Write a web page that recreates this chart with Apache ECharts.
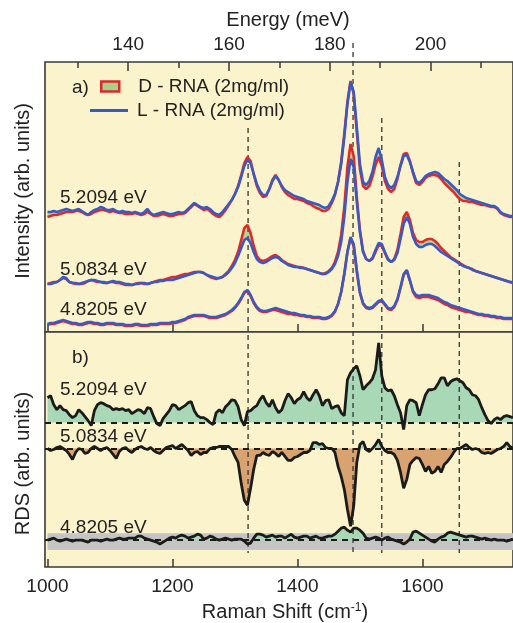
<!DOCTYPE html>
<html><head><meta charset="utf-8">
<script src="https://cdn.jsdelivr.net/npm/echarts@6/dist/echarts.min.js"></script>
<style>html,body{margin:0;padding:0;background:#fff}#c{width:513px;height:623px}</style>
</head><body><div id="c"></div>
<script>
// Raman shift grid (cm^-1)
const ramanShift = [
1000,1005,1010,1015,1020,1025,1030,1035,1040,1045,
1050,1055,1060,1065,1070,1075,1080,1085,1090,1095,
1100,1105,1110,1115,1120,1125,1130,1135,1140,1145,
1150,1155,1160,1165,1170,1175,1180,1185,1190,1195,
1200,1205,1210,1215,1220,1225,1230,1235,1240,1245,
1250,1255,1260,1265,1270,1275,1280,1285,1290,1295,
1300,1305,1310,1315,1320,1325,1330,1335,1340,1345,
1350,1355,1360,1365,1370,1375,1380,1385,1390,1395,
1400,1405,1410,1415,1420,1425,1430,1435,1440,1445,
1450,1455,1460,1465,1470,1475,1480,1485,1490,1495,
1500,1505,1510,1515,1520,1525,1530,1535,1540,1545,
1550,1555,1560,1565,1570,1575,1580,1585,1590,1595,
1600,1605,1610,1615,1620,1625,1630,1635,1640,1645,
1650,1655,1660,1665,1670,1675,1680,1685,1690,1695,
1700,1705,1710,1715,1720,1725,1730,1735,1740,1745];

// panel a) spectra (offset intensities, arb. units)
const L_52094 = [
120,120,121,120,121,122,123,122,121,122,
123,121,119,117,120,122,123,125,124,122,
122,123,121,120,121,120,120,119,120,119,
118,120,123,119,117,118,119,120,119,118,
118,119,120,119,120,123,126,129,127,125,
124,125,123,120,118,117,120,124,128,132,
138,145,155,166,172,169,158,148,141,137,
137,143,151,156,152,146,142,140,138,136,
135,134,133,131,130,129,128,127,125,124,
126,131,138,150,168,195,228,250,240,205,
168,150,147,151,160,175,184,172,155,147,
144,147,155,166,176,177,170,160,151,149,
152,156,158,159,160,159,156,153,151,148,
145,142,138,136,134,133,132,131,130,129,
128,127,126,126,124,120,118,117,116,116];
const D_52094 = [
115,116,117,117,118,119,120,120,120,121,
121,120,118,117,118,120,121,122,122,121,
120,121,120,119,119,118,118,118,119,118,
117,118,120,118,116,116,117,118,117,116,
116,117,118,118,119,122,125,128,126,124,
122,123,121,118,116,115,118,122,127,132,
138,146,157,169,175,171,158,146,139,135,
136,143,152,157,152,145,140,137,135,133,
133,132,131,129,128,126,124,123,121,121,
123,129,137,150,170,198,230,251,238,200,
163,146,143,146,155,167,175,166,151,143,
140,143,153,167,178,179,171,159,149,147,
150,154,156,157,157,156,153,149,146,143,
140,136,133,131,131,130,130,129,128,127,
127,126,125,125,123,119,117,116,115,115];
const L_50834 = [
48,48,49,50,52,55,54,50,49,49,
48,49,50,51,52,52,51,50,50,49,
50,51,50,50,49,48,48,47,48,48,
49,49,48,49,50,50,51,51,52,52,
52,53,54,55,56,57,58,59,60,60,
59,57,56,55,54,54,55,57,60,64,
69,76,84,92,94,89,80,73,70,69,
70,72,74,75,74,71,69,67,66,65,
65,64,64,63,62,61,60,59,58,58,
60,63,68,76,90,115,150,173,165,130,
100,80,73,71,74,82,89,88,80,73,
70,72,79,93,108,115,108,95,88,85,
85,87,88,88,86,83,80,78,76,74,
72,70,68,66,65,64,62,61,60,59,
58,57,56,55,54,53,52,51,50,50];
const D_50834 = [
48,49,50,50,52,54,53,50,49,48,
48,48,49,51,52,51,50,50,49,49,
50,50,49,49,48,47,47,47,48,49,
49,48,48,49,50,51,52,52,53,54,
55,55,56,57,58,58,59,60,60,60,
59,57,55,54,53,54,55,58,61,66,
72,80,92,104,107,99,86,76,72,71,
72,74,76,77,75,72,70,68,67,66,
65,65,64,63,62,61,60,59,58,59,
61,64,70,80,97,125,165,188,176,135,
102,81,73,71,73,80,87,86,79,72,
70,73,82,98,115,120,112,99,92,90,
90,92,93,93,91,88,84,81,78,75,
73,71,69,67,65,64,63,61,60,59,
58,57,56,55,54,53,52,51,50,49];
const L_48205 = [
8,9,9,10,11,12,11,10,9,9,
8,8,9,10,10,9,9,8,8,9,
9,9,8,8,8,7,7,7,8,8,
7,7,7,8,8,8,9,9,9,9,
10,10,11,12,13,15,16,17,17,17,
17,16,15,15,15,16,17,18,20,22,
25,29,34,40,42,37,30,25,22,21,
21,22,23,24,23,22,21,20,19,19,
18,17,17,16,16,15,15,15,14,14,
15,17,21,28,40,58,80,95,88,62,
40,29,25,24,25,28,31,32,28,24,
23,26,33,45,58,62,52,41,37,36,
37,37,37,36,35,34,32,30,29,27,
26,25,24,23,22,21,20,19,18,18,
17,17,16,16,15,15,14,14,14,14];
const D_48205 = [
7,8,8,9,10,11,10,9,8,8,
7,7,8,9,9,8,8,7,7,8,
8,8,7,7,7,6,6,6,7,7,
6,6,6,7,7,7,8,8,8,8,
9,9,10,11,12,14,15,16,16,16,
16,15,14,14,14,15,16,17,19,21,
24,28,33,39,41,36,29,24,21,20,
20,21,22,22,21,20,19,18,18,17,
17,16,16,15,15,14,14,14,13,13,
14,16,20,28,40,58,80,94,86,60,
39,28,24,23,24,27,30,31,27,23,
22,25,32,44,57,61,51,40,35,34,
35,35,35,34,33,32,30,28,27,25,
24,23,22,21,20,20,19,18,17,17,
16,16,15,15,14,14,13,13,13,13];

// panel b) RDS relative to each trace's zero line
const RDS_52094 = [
25,27,18,13,17,13,12,8,5,7,
13,10,6,2,-3,12,18,20,19,17,
16,13,14,13,14,12,13,9,11,13,
12,9,15,14,6,-1,-3,4,8,12,
18,17,13,15,17,20,21,12,7,5,
5,3,0,-2,10,13,10,16,19,23,
22,16,3,-3,11,12,15,17,23,27,
20,16,23,15,10,13,22,29,25,19,
23,25,31,25,22,28,33,27,17,22,
23,14,16,17,10,7,43,50,54,57,
47,33,37,40,44,53,80,47,35,32,
33,27,18,10,-7,17,23,22,20,7,
18,28,33,33,34,39,45,45,37,41,
43,44,42,40,35,33,28,27,23,15,
8,2,-1,3,5,3,6,7,6,5];
const RDS_50834 = [
0,-2,-1,1,2,0,-2,-6,-11,-4,
0,-1,-5,-4,0,2,0,-2,0,1,
-2,-6,-10,-3,0,1,-2,-4,-1,1,
2,0,-1,1,-2,-4,-5,-2,1,2,
3,0,2,4,1,-2,-7,-4,-3,-6,
-4,-4,0,1,1,2,2,2,2,-1,
-8,-14,-35,-52,-57,-40,-21,-7,-7,-4,
-6,-7,-3,-5,-8,-4,-8,-12,-12,-9,
-8,-6,-4,-4,-2,6,6,4,5,1,
0,0,-4,-18,-28,-41,-61,-78,-58,-14,
4,7,-1,-3,0,4,9,2,-2,-4,
-4,-6,-12,-24,-40,-31,-16,-12,-9,-10,
-16,-23,-18,-25,-23,-18,-24,-16,-13,-9,
-4,0,0,2,4,1,-1,0,-1,-4,
-5,-4,-5,-3,-1,0,2,6,2,0];
const RDS_48205 = [
0,1,2,0,-1,0,1,0,-1,0,
0,0,-1,-2,0,0,0,-1,0,1,
0,0,1,2,1,1,2,2,2,4,
4,2,1,0,-1,-2,-4,-2,0,2,
3,2,4,5,4,2,3,4,6,5,
1,2,4,3,1,0,1,2,1,0,
1,1,1,-1,-4,-3,2,6,6,5,
3,4,5,3,4,4,2,4,6,3,
2,3,4,4,2,3,4,2,2,3,
4,4,6,9,12,13,10,8,12,12,
10,7,2,1,2,3,2,0,2,3,
1,0,-1,-2,-4,-2,1,8,9,7,
5,3,1,-1,-2,1,3,4,7,8,
7,6,5,4,3,4,4,3,2,1,
2,1,0,1,0,0,0,-1,0,1];

const rdsBaselines = [145, 119, 27];          // zero line of each RDS trace
const rdsNoiseBand = [17, 34];                // grey band of 4.8205 eV trace
const traceLabels = ['5.2094 eV', '5.0834 eV', '4.8205 eV'];
const shiftTicks = [1000, 1200, 1400, 1600];
const energyTicks = [140, 160, 180, 200];
const energyMinorTicks = [130, 150, 170, 190, 210];
const refShifts = [1321, 1489, 1535, 1659];   // dashed guide lines
const refTops = [440, 525, 450, 406];          // guide line tops (overlay units)

[L_52094,D_52094,L_50834,D_50834,L_48205,D_48205,RDS_52094,RDS_50834,RDS_48205].forEach((a,i)=>{
  if (a.length !== ramanShift.length) throw new Error('length mismatch ' + i + ': ' + a.length);
});

const CM_PER_MEV = 8.0655;
const xMin = 996, xMax = 1745;
const FONT = 'Liberation Sans, Arial, sans-serif';
const TXT = '#222';
const RED = '#df2a2a', BLUE = '#3a59c2', GAPFILL = '#b2d494';
const POS = '#a9d8b6', NEG = '#d9a271';
const BG = '#fbf3cb';
const DNAME = 'D - RNA (2mg/ml)', LNAME = 'L - RNA (2mg/ml)';
const numFmt = v => String(Math.round(v));

const series = [];
[[L_52094, D_52094], [L_50834, D_50834], [L_48205, D_48205]].forEach((p) => {
  const [L, D] = p;
  // green fill between the D and L spectra, placed with the axis scales
  series.push({type:'custom', xAxisIndex:0, yAxisIndex:0, silent:true, z:2,
    data:[[ramanShift[0], L[0]]],
    renderItem:(params, api) => {
      const pts = [];
      for (let k = 0; k < ramanShift.length; k++) pts.push(api.coord([ramanShift[k], D[k]]));
      for (let k = ramanShift.length - 1; k >= 0; k--) pts.push(api.coord([ramanShift[k], L[k]]));
      return {type:'polygon', shape:{points:pts}, style:{fill:GAPFILL, stroke:null}};
    }});
  series.push({name:DNAME, type:'line', xAxisIndex:0, yAxisIndex:0, symbol:'none', z:5,
    lineStyle:{color:RED, width:2.6}, itemStyle:{color:RED},
    data: ramanShift.map((x,k)=>[x, D[k]])});
  series.push({name:LNAME, type:'line', xAxisIndex:0, yAxisIndex:0, symbol:'none', z:6,
    lineStyle:{color:BLUE, width:2.6}, itemStyle:{color:BLUE},
    data: ramanShift.map((x,k)=>[x, L[k]])});
});

[RDS_52094, RDS_50834, RDS_48205].forEach((r, i) => {
  const base = rdsBaselines[i];
  if (i === 2) {
    series.push({type:'line', xAxisIndex:1, yAxisIndex:1, data:[], silent:true,
      markArea:{silent:true, itemStyle:{color:'#c4c4c4'},
        data:[[{xAxis:ramanShift[0], yAxis:rdsNoiseBand[0]}, {xAxis:xMax, yAxis:rdsNoiseBand[1]}]]}});
  }
  series.push({type:'line', xAxisIndex:1, yAxisIndex:1, symbol:'none', silent:true, z:2,
    lineStyle:{width:0}, areaStyle:{color:POS, opacity:1, origin:base},
    data: ramanShift.map((x,k)=>[x, base + Math.max(r[k], 0)])});
  series.push({type:'line', xAxisIndex:1, yAxisIndex:1, symbol:'none', silent:true, z:2,
    lineStyle:{width:0}, areaStyle:{color:NEG, opacity:1, origin:base},
    data: ramanShift.map((x,k)=>[x, base + Math.min(r[k], 0)])});
  series.push({type:'line', xAxisIndex:1, yAxisIndex:1, symbol:'none', z:6,
    lineStyle:{color:'#1b1b1b', width:2.8}, itemStyle:{color:'#1b1b1b'},
    data: ramanShift.map((x,k)=>[x, base + r[k]]),
    markLine:{silent:true, symbol:['none','none'], label:{show:false}, z:4,
      lineStyle:{color:'#1b1b1b', width:2, type:[6,5]}, data:[{yAxis:base}]}});
});

refShifts.forEach((x, i) => {
  series.push({type:'line', xAxisIndex:4, yAxisIndex:2, symbol:'none', silent:true, z:4,
    lineStyle:{color:'#333', width:1.3, type:[5,4]}, data:[[x, refTops[i]], [x, 15]]});
});

const hiddenY = {show:true, axisLine:{show:false}, axisTick:{show:false}, axisLabel:{show:false}, splitLine:{show:false}};

const option = {
  backgroundColor:'#fff',
  animation:false,
  grid:[
    {left:45, right:0, top:62, height:270, show:true, backgroundColor:BG, borderColor:'#3a3a3a', borderWidth:1.6},
    {left:45, right:0, top:332, height:236, show:true, backgroundColor:BG, borderColor:'#3a3a3a', borderWidth:1.6},
    {left:45, right:0, top:40, height:528, show:false}
  ],
  xAxis:[
    {gridIndex:0, type:'value', min:xMin, max:xMax, position:'bottom',
      axisLine:{show:false}, splitLine:{show:false}, axisLabel:{show:false},
      axisTick:{inside:true, length:8, customValues:shiftTicks, lineStyle:{color:'#3a3a3a', width:1.5}}},
    {gridIndex:1, type:'value', min:xMin, max:xMax, position:'bottom',
      axisLine:{show:false}, splitLine:{show:false},
      axisTick:{inside:true, length:8, customValues:shiftTicks, lineStyle:{color:'#3a3a3a', width:1.5}},
      axisLabel:{customValues:shiftTicks, formatter:numFmt, margin:10, fontSize:19, color:TXT, fontFamily:FONT},
      name:'Raman Shift (cm{sup|-1})', nameLocation:'middle', nameGap:35,
      nameTextStyle:{fontSize:20, color:TXT, fontFamily:FONT, padding:[0,0,0,12],
        rich:{sup:{fontSize:12, color:TXT, fontFamily:FONT, verticalAlign:'top', padding:[0,0,6,0]}}}},
    {gridIndex:0, type:'value', min:xMin/CM_PER_MEV, max:xMax/CM_PER_MEV, position:'top',
      axisLine:{show:false}, splitLine:{show:false},
      axisTick:{inside:true, length:9, customValues:energyTicks, lineStyle:{color:'#3a3a3a', width:1.5}},
      axisLabel:{customValues:energyTicks, formatter:numFmt, margin:8, fontSize:19, color:TXT, fontFamily:FONT},
      name:'Energy (meV)', nameLocation:'middle', nameGap:32,
      nameTextStyle:{fontSize:20, color:TXT, fontFamily:FONT, padding:[0,0,0,18]}},
    {gridIndex:0, type:'value', min:xMin/CM_PER_MEV, max:xMax/CM_PER_MEV, position:'top',
      axisLine:{show:false}, splitLine:{show:false}, axisLabel:{show:false},
      axisTick:{inside:true, length:6, customValues:energyMinorTicks, lineStyle:{color:'#3a3a3a', width:1.5}}},
    {gridIndex:2, type:'value', min:xMin, max:xMax, show:false}
  ],
  yAxis:[
    Object.assign({gridIndex:0, type:'value', min:0, max:270, name:'Intensity (arb. units)',
      nameLocation:'middle', nameGap:12, nameRotate:90,
      nameTextStyle:{fontSize:20, color:TXT, fontFamily:FONT, padding:[0,0,0,12]}}, hiddenY),
    Object.assign({gridIndex:1, type:'value', min:0, max:236, name:'RDS (arb. units)',
      nameLocation:'middle', nameGap:12, nameRotate:90,
      nameTextStyle:{fontSize:20, color:TXT, fontFamily:FONT, padding:[0,28,0,0]}}, hiddenY),
    {gridIndex:2, type:'value', min:0, max:528, show:false}
  ],
  legend:[
    {data:[{name:DNAME, icon:'rect', itemStyle:{color:'#a9cf8c', borderColor:'#d92a2a', borderWidth:2.5}}],
      left:100, top:77, padding:0, itemWidth:18, itemHeight:10, selectedMode:false,
      textStyle:{fontSize:19, color:TXT, fontFamily:FONT, padding:[0,0,0,14]}},
    {data:[{name:LNAME, icon:'rect', itemStyle:{color:BLUE}}],
      left:90, top:101, padding:0, itemWidth:38, itemHeight:3, selectedMode:false,
      textStyle:{fontSize:19, color:TXT, fontFamily:FONT, padding:[0,0,0,4]}}
  ],
  graphic:[
    {type:'text', x:72, y:88, z:10, style:{text:'a)', font:'19px '+FONT, fill:TXT, verticalAlign:'middle'}},
    {type:'text', x:72, y:358, z:10, style:{text:'b)', font:'19px '+FONT, fill:TXT, verticalAlign:'middle'}},
    {type:'text', x:60, y:198, z:10, style:{text:traceLabels[0], font:'19px '+FONT, fill:TXT, verticalAlign:'middle'}},
    {type:'text', x:60, y:270, z:10, style:{text:traceLabels[1], font:'19px '+FONT, fill:TXT, verticalAlign:'middle'}},
    {type:'text', x:60, y:310, z:10, style:{text:traceLabels[2], font:'19px '+FONT, fill:TXT, verticalAlign:'middle'}},
    {type:'text', x:60, y:390, z:10, style:{text:traceLabels[0], font:'19px '+FONT, fill:TXT, verticalAlign:'middle'}},
    {type:'text', x:60, y:437, z:10, style:{text:traceLabels[1], font:'19px '+FONT, fill:TXT, verticalAlign:'middle'}},
    {type:'text', x:60, y:528, z:10, style:{text:traceLabels[2], font:'19px '+FONT, fill:TXT, verticalAlign:'middle'}}
  ],
  series: series
};

const chart = echarts.init(document.getElementById('c'), null, {renderer:'canvas', width:513, height:623});
chart.setOption(option);
</script></body></html>
